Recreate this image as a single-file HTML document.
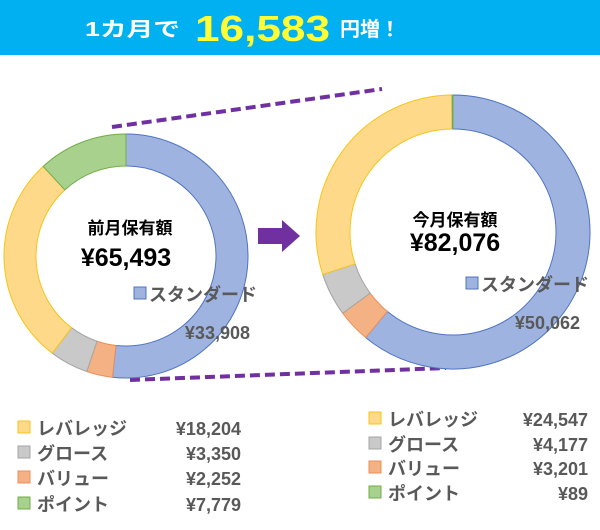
<!DOCTYPE html>
<html><head><meta charset="utf-8">
<style>
body{margin:0;width:600px;height:530px;background:#fff;overflow:hidden;font-family:"Liberation Sans","Noto Sans CJK JP",sans-serif;}
#banner{position:absolute;left:0;top:0;width:600px;height:55px;background:#00b0f0;}
</style></head>
<body>
<div id="banner"></div>
<svg id="chart" width="600" height="530" style="position:absolute;left:0;top:0">
<text x="85" y="36" font-size="20" font-weight="bold" fill="#fff" textLength="95" lengthAdjust="spacingAndGlyphs" font-family="Liberation Sans, Noto Sans CJK JP, sans-serif">1カ月で</text>
<text x="195" y="41" font-size="36" font-weight="bold" fill="#ffff33" textLength="135" lengthAdjust="spacingAndGlyphs" font-family="Liberation Sans, sans-serif">16,583</text>
<text x="340" y="36" font-size="20" font-weight="bold" fill="#fff" textLength="60" lengthAdjust="spacingAndGlyphs" font-family="Liberation Sans, Noto Sans CJK JP, sans-serif">円増！</text>
<line x1="112" y1="127" x2="382" y2="89" stroke="#7030a0" stroke-width="4" stroke-dasharray="10,5"/>
<line x1="130" y1="380" x2="446" y2="368" stroke="#7030a0" stroke-width="4" stroke-dasharray="10,5"/>
<polygon points="258,228 282,228 282,220 300,236 282,252 282,244 258,244" fill="#7030a0"/>
<g id="donuts"></g>
<g id="labels"></g>
</svg>
<script>
const categories = ["スタンダード","バリュー","グロース","レバレッジ","ポイント"];
const prevValues = [33908, 2252, 3350, 18204, 7779];
const currValues = [50062, 3201, 4177, 24547, 89];
const prevTotal = "¥65,493";
const currTotal = "¥82,076";
const fills = ["#9fb3e0","#f4b183","#c9c9c9","#ffd98a","#a9d18e"];
const strokes = ["#4f74c0","#ed8f5a","#a5a5a5","#f5c518","#70ad47"];
const NS="http://www.w3.org/2000/svg";
function fmt(v){return "¥"+v.toLocaleString("en-US");}
function arc(cx,cy,ro,ri,a0,a1){
  const p=(r,a)=>[cx+r*Math.sin(a),cy-r*Math.cos(a)];
  const big=(a1-a0)>Math.PI?1:0;
  const [x0,y0]=p(ro,a0),[x1,y1]=p(ro,a1),[x2,y2]=p(ri,a1),[x3,y3]=p(ri,a0);
  return `M${x0},${y0}A${ro},${ro} 0 ${big} 1 ${x1},${y1}L${x2},${y2}A${ri},${ri} 0 ${big} 0 ${x3},${y3}Z`;
}
function donut(values,cx,cy,ro,ri,tag){
  const g=document.getElementById("donuts");
  const tot=values.reduce((a,b)=>a+b,0);
  let a=0;
  values.forEach((v,i)=>{
    const a1=a+v/tot*2*Math.PI;
    const path=document.createElementNS(NS,"path");
    path.setAttribute("d",arc(cx,cy,ro,ri,a,a1));
    path.setAttribute("fill",fills[i]);
    path.setAttribute("stroke",strokes[i]);
    path.setAttribute("stroke-width","1");
    
    
    g.appendChild(path);
    a=a1;
  });
}
donut(prevValues,126,256,122,90,"previous");
donut(currValues,453,232,137,103,"current");
const L=document.getElementById("labels");
function txt(s,x,y,size,color,anchor,name){
  const t=document.createElementNS(NS,"text");
  t.textContent=s;t.setAttribute("x",x);t.setAttribute("y",y);
  t.setAttribute("font-size",size);t.setAttribute("font-weight","bold");
  t.setAttribute("fill",color);t.setAttribute("text-anchor",anchor||"start");
  t.setAttribute("font-family","Liberation Sans, Noto Sans CJK JP, sans-serif");
  
  
  L.appendChild(t);
}
function sq(x,y,i,name){
  const r=document.createElementNS(NS,"rect");
  r.setAttribute("x",x);r.setAttribute("y",y);r.setAttribute("width",12);r.setAttribute("height",12);
  r.setAttribute("fill",fills[i]);r.setAttribute("stroke",strokes[i]);
  
  
  L.appendChild(r);
}
txt("前月保有額",130,234,17,"#000","middle","previous-title");
txt(prevTotal,126,266,25,"#000","middle","previous-total");
sq(134,287,0,"previous-standard-swatch");
txt(categories[0],149,301,18,"#595959","start","previous-standard-label");
txt(fmt(prevValues[0]),250,339,18,"#595959","end","previous-standard-value");
txt("今月保有額",455,226,17,"#000","middle","current-title");
txt(currTotal,455,251,25,"#000","middle","current-total");
sq(466,277,0,"current-standard-swatch");
txt(categories[0],481,291,18,"#595959","start","current-standard-label");
txt(fmt(currValues[0]),580,329,18,"#595959","end","current-standard-value");
const order=[3,2,1,4];
const leftY=[432,457,482,508], rightY=[423,448,472,497];
order.forEach((ci,k)=>{
  sq(18,leftY[k]-11,ci,"legend-previous-swatch");
  txt(categories[ci],37,leftY[k]+3,18,"#595959","start","legend-previous-label");
  txt(fmt(prevValues[ci]),241,leftY[k]+3,18,"#595959","end","legend-previous-value");
  sq(369,rightY[k]-11,ci,"legend-current-swatch");
  txt(categories[ci],388,rightY[k]+3,18,"#595959","start","legend-current-label");
  txt(fmt(currValues[ci]),588,rightY[k]+3,18,"#595959","end","legend-current-value");
});
</script>
</body></html>
